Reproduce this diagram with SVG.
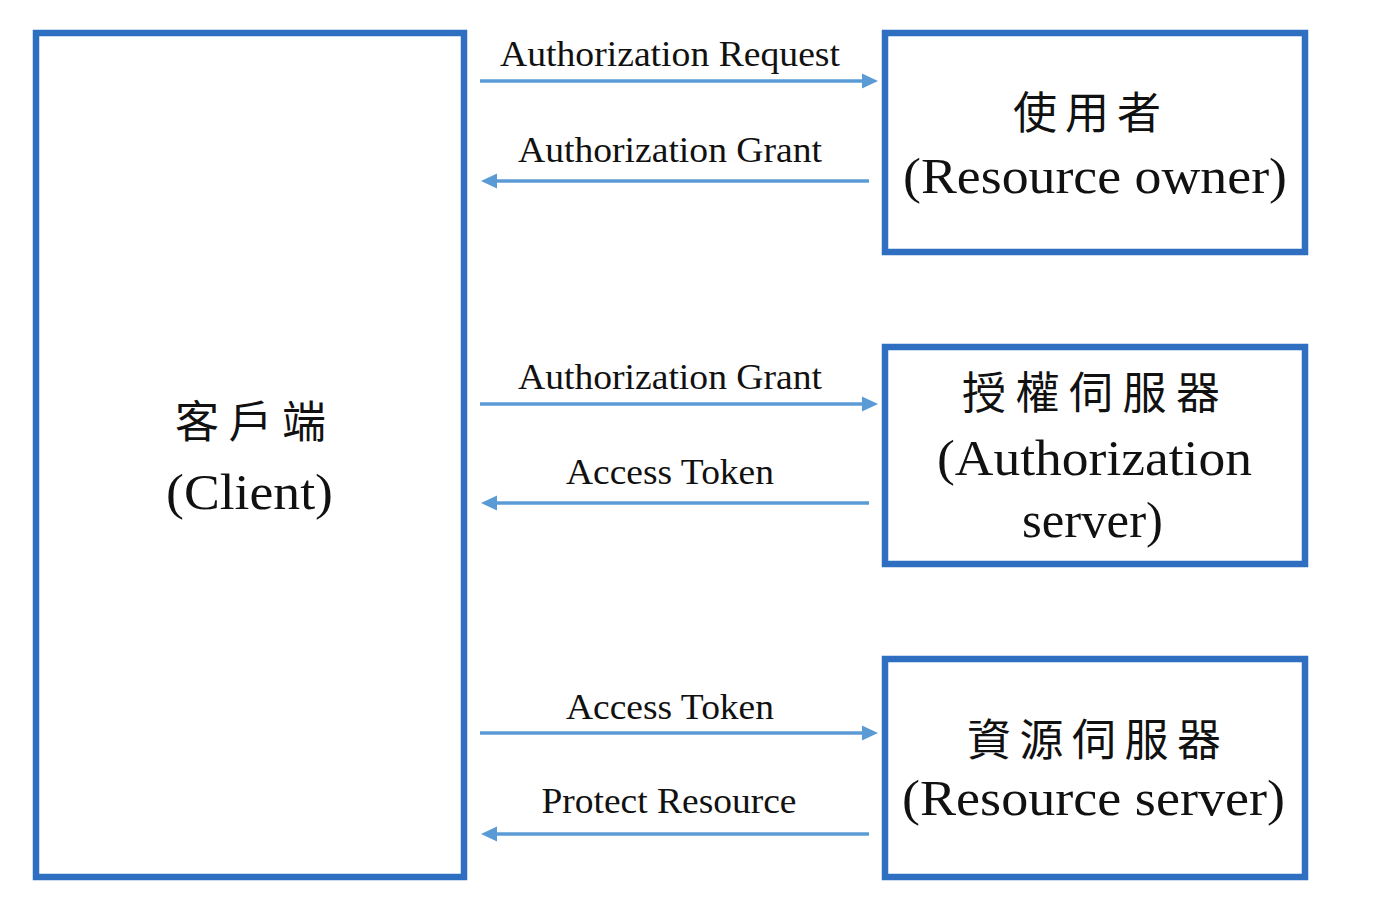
<svg xmlns="http://www.w3.org/2000/svg" width="1396" height="914" viewBox="0 0 1396 914">
  <style>
    .box { fill: #ffffff; stroke: #2F6FC1; stroke-width: 6.5; }
    .conn { stroke: #5B9BD5; stroke-width: 3.5; fill: none; }
    .lbl { font-family: "Liberation Serif", "Times New Roman", serif; font-size: 36px; fill: #111111; text-anchor: middle; }
    .big { font-family: "Liberation Serif", "Times New Roman", serif; font-size: 50px; fill: #111111; text-anchor: middle; }
    .cjk { font-family: "Liberation Serif", "Noto Sans CJK TC", "Noto Sans CJK SC", serif; font-size: 44px; fill: #111111; text-anchor: middle; }
  </style>
  <defs>
    <marker id="ah" markerUnits="userSpaceOnUse" markerWidth="16" markerHeight="16" refX="6" refY="8" orient="auto" viewBox="0 0 16 16">
      <path d="M0,0.5 L16,8 L0,15.5 z" fill="#5B9BD5"/>
    </marker>
  </defs>
  <rect width="1396" height="914" fill="#ffffff"/>

  <g id="client">
    <rect class="box" x="36" y="33" width="428" height="844"/>
    <text class="cjk" x="250.5" y="438" textLength="151" lengthAdjust="spacing">客戶端</text>
    <text class="big" x="249.5" y="509" font-size="52" textLength="167" lengthAdjust="spacingAndGlyphs">(Client)</text>
  </g>

  <g id="resource-owner">
    <rect class="box" x="885" y="33" width="420" height="219"/>
    <text class="cjk" x="1087" y="129" textLength="148" lengthAdjust="spacing">使用者</text>
    <text class="big" x="1095" y="193" textLength="384" lengthAdjust="spacingAndGlyphs">(Resource owner)</text>
  </g>

  <g id="authorization-server">
    <rect class="box" x="885" y="347" width="420" height="217"/>
    <text class="cjk" x="1091" y="409" textLength="258" lengthAdjust="spacing">授權伺服器</text>
    <text class="big" x="1094.5" y="475" textLength="315" lengthAdjust="spacingAndGlyphs">(Authorization</text>
    <text class="big" x="1092.5" y="537" textLength="141" lengthAdjust="spacingAndGlyphs">server)</text>
  </g>

  <g id="resource-server">
    <rect class="box" x="885" y="659" width="420" height="218"/>
    <text class="cjk" x="1094" y="756" textLength="254" lengthAdjust="spacing">資源伺服器</text>
    <text class="big" x="1093.5" y="815" textLength="383" lengthAdjust="spacingAndGlyphs">(Resource server)</text>
  </g>

  <g id="connectors">
    <line class="conn" x1="480" y1="81" x2="868" y2="81" marker-end="url(#ah)"/>
    <line class="conn" x1="869" y1="181" x2="491" y2="181" marker-end="url(#ah)"/>
    <line class="conn" x1="480" y1="404" x2="868" y2="404" marker-end="url(#ah)"/>
    <line class="conn" x1="869" y1="503" x2="491" y2="503" marker-end="url(#ah)"/>
    <line class="conn" x1="480" y1="733" x2="868" y2="733" marker-end="url(#ah)"/>
    <line class="conn" x1="869" y1="834" x2="491" y2="834" marker-end="url(#ah)"/>
    <text class="lbl" x="670" y="66" textLength="340" lengthAdjust="spacingAndGlyphs">Authorization Request</text>
    <text class="lbl" x="670" y="162" textLength="304" lengthAdjust="spacingAndGlyphs">Authorization Grant</text>
    <text class="lbl" x="670" y="389" textLength="304" lengthAdjust="spacingAndGlyphs">Authorization Grant</text>
    <text class="lbl" x="670" y="484" textLength="208" lengthAdjust="spacingAndGlyphs">Access Token</text>
    <text class="lbl" x="670" y="719" textLength="208" lengthAdjust="spacingAndGlyphs">Access Token</text>
    <text class="lbl" x="669" y="813" textLength="255" lengthAdjust="spacingAndGlyphs">Protect Resource</text>
  </g>
</svg>
